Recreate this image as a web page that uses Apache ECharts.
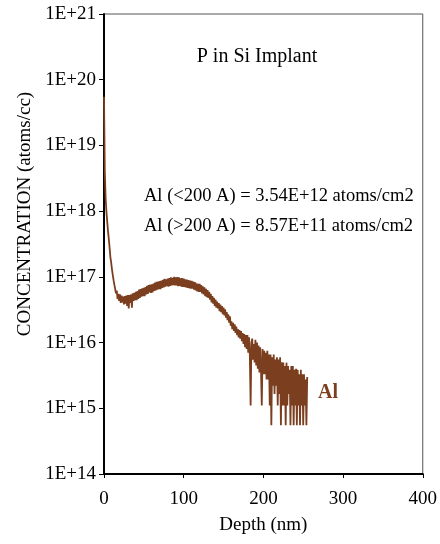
<!DOCTYPE html>
<html>
<head>
<meta charset="utf-8">
<script src="https://cdn.jsdelivr.net/npm/echarts@6/dist/echarts.min.js"></script>
<style>html,body{margin:0;padding:0;background:#fff}#c{width:440px;height:544px}</style>
</head>
<body>
<div id="c"></div>
<script>
// Depth sampling (nm): one reading per nm starting at 0
const depthStart = 0;
const depthStep = 1;
// Al concentration (atoms/cc), one per nm
const alConc = [
 5.5e19, 4.0e18, 1.6e18, 1.0e18, 7.0e17, 5.0e17, 3.8e17, 2.8e17, 2.0e17, 1.65e17,
 1.3e17, 1.07e17, 8.9e16, 7.6e16, 7.2e16, 5.6e16, 6.2e16, 4.6e16, 5.5e16, 4.3e16,
 5.4e16, 4.0e16, 5.2e16, 4.1e16, 5.0e16, 3.8e16, 5.1e16, 3.9e16, 5.2e16, 3.6e16,
 5.3e16, 3.3e16, 5.3e16, 4.0e16, 5.4e16, 3.4e16, 5.6e16, 4.3e16, 5.7e16, 4.4e16,
 5.9e16, 4.4e16, 6.1e16, 4.6e16, 6.4e16, 4.8e16, 6.5e16, 5.0e16, 6.7e16, 5.1e16,
 6.8e16, 5.1e16, 7.0e16, 5.4e16, 7.3e16, 5.5e16, 7.5e16, 5.8e16, 7.6e16, 5.7e16,
 7.7e16, 5.8e16, 7.9e16, 6.1e16, 8.2e16, 6.2e16, 8.4e16, 6.4e16, 8.5e16, 6.5e16,
 8.6e16, 6.5e16, 8.8e16, 6.8e16, 9.0e16, 6.9e16, 9.3e16, 7.1e16, 9.2e16, 7.2e16,
 9.4e16, 7.1e16, 9.6e16, 7.3e16, 9.8e16, 7.4e16, 9.7e16, 7.5e16, 1.0e17, 7.4e16,
 9.8e16, 7.4e16, 9.9e16, 7.2e16, 9.8e16, 7.3e16, 9.5e16, 7.1e16, 9.6e16, 7.0e16,
 9.4e16, 7.0e16, 9.2e16, 6.9e16, 9.1e16, 6.8e16, 8.9e16, 6.7e16, 8.8e16, 6.6e16,
 8.7e16, 6.6e16, 8.5e16, 6.4e16, 8.3e16, 6.2e16, 8.0e16, 6.0e16, 7.8e16, 5.9e16,
 7.8e16, 5.9e16, 7.5e16, 5.6e16, 7.2e16, 5.4e16, 6.9e16, 5.1e16, 6.6e16, 4.9e16,
 6.3e16, 4.8e16, 5.9e16, 4.5e16, 5.5e16, 4.1e16, 5.1e16, 3.9e16, 4.8e16, 3.6e16,
 4.5e16, 3.4e16, 4.2e16, 3.3e16, 4.0e16, 3.0e16, 3.8e16, 2.9e16, 3.6e16, 2.7e16,
 3.4e16, 2.6e16, 3.2e16, 2.4e16, 2.9e16, 2.2e16, 2.7e16, 2.0e16, 2.5e16, 1.8e16,
 2.1e16, 1.6e16, 2.0e16, 1.5e16, 1.9e16, 1.4e16, 1.75e16, 1.3e16, 1.6e16, 1.2e16,
 1.55e16, 1.15e16, 1.5e16, 1.05e16, 1.4e16, 9.5e15, 1.35e16, 8.5e15, 1.3e16, 8.0e15,
 1.3e16, 7.0e15, 1.2e16, 6.5e15, 1.1e15, 1.0e16, 1.15e16, 5.5e15, 9.5e15, 5.0e15,
 1.1e16, 4.5e15, 1.0e16, 4.0e15, 9.0e15, 3.5e15, 8.5e15, 4.0e15, 1.1e15, 8.0e15,
 3.3e15, 7.5e15, 3.3e15, 7.0e15, 2.75e15, 7.5e15, 2.75e15, 6.6e15, 1.1e15, 6.6e15,
 0.55e15, 6.0e15, 2.2e15, 6.6e15, 1.65e15, 5.5e15, 2.2e15, 6.0e15, 1.1e15, 5.5e15,
 1.65e15, 6.0e15, 0.55e15, 5.0e15, 1.1e15, 4.95e15, 1.1e15, 4.4e15, 0.55e15, 4.95e15,
 1.1e15, 4.4e15, 1.65e15, 3.85e15, 0.55e15, 4.4e15, 1.1e15, 4.4e15, 0.55e15, 3.85e15,
 1.1e15, 4.0e15, 0.55e15, 3.85e15, 1.1e15, 3.3e15, 0.55e15, 3.85e15, 1.1e15, 3.3e15,
 0.55e15, 3.3e15, 1.1e15, 2.75e15, 0.55e15, 3.0e15
];
const xTicks = [0, 100, 200, 300, 400];
const yTickExponents = [14, 15, 16, 17, 18, 19, 20, 21];
const titleText = 'P in Si Implant';
const noteLines = ['Al (<200 A) = 3.54E+12 atoms/cm2', 'Al (>200 A) = 8.57E+11 atoms/cm2'];
const seriesName = 'Al';

const FONT = '"Liberation Serif", "Times New Roman", serif';
const BROWN = '#7B3F1F';
const seriesData = alConc.map((c, i) => [depthStart + i * depthStep, c]);

const chart = echarts.init(document.getElementById('c'), null, {renderer: 'canvas'});
chart.setOption({
  animation: false,
  backgroundColor: '#fff',
  grid: {left: 104, right: 15, top: 14, bottom: 70, show: true, borderColor: '#555', borderWidth: 1, backgroundColor: 'transparent'},
  xAxis: {
    type: 'value', min: xTicks[0], max: xTicks[xTicks.length - 1], interval: 100,
    axisLine: {show: true, onZero: false, lineStyle: {color: '#000', width: 2}},
    axisTick: {show: true, inside: false, length: 4, lineStyle: {color: '#000', width: 1}},
    splitLine: {show: false},
    axisLabel: {margin: 16, fontFamily: FONT, fontSize: 19, color: '#000'},
    name: 'Depth (nm)', nameLocation: 'middle', nameGap: 42,
    nameTextStyle: {fontFamily: FONT, fontSize: 19, color: '#000'}
  },
  yAxis: {
    type: 'log', logBase: 10,
    min: Math.pow(10, yTickExponents[0]), max: Math.pow(10, yTickExponents[yTickExponents.length - 1]),
    axisLine: {show: true, lineStyle: {color: '#000', width: 2}},
    axisTick: {show: true, inside: false, length: 5, lineStyle: {color: '#000', width: 1}},
    minorTick: {show: false},
    splitLine: {show: false},
    axisLabel: {
      margin: 8, fontFamily: FONT, fontSize: 19, color: '#000',
      formatter: v => '1E+' + Math.round(Math.log10(v))
    }
  },
  graphic: [
    {type: 'text', x: 25, y: 214, rotation: Math.PI / 2, style: {text: 'CONCENTRATION (atoms/cc)', font: '19px ' + FONT, fill: '#000', align: 'center', verticalAlign: 'middle'}},
    {type: 'text', x: 257, y: 57, style: {text: titleText, font: '20px ' + FONT, fill: '#000', align: 'center', verticalAlign: 'middle'}},
    {type: 'text', x: 144, y: 196, style: {text: noteLines[0], font: '18.5px ' + FONT, fill: '#000', align: 'left', verticalAlign: 'middle'}},
    {type: 'text', x: 144, y: 226, style: {text: noteLines[1], font: '18.5px ' + FONT, fill: '#000', align: 'left', verticalAlign: 'middle'}},
    {type: 'text', x: 318, y: 393, style: {text: seriesName, font: 'bold 20px ' + FONT, fill: BROWN, align: 'left', verticalAlign: 'middle'}}
  ],
  series: [{
    name: seriesName, type: 'line', data: seriesData, showSymbol: false, symbol: 'none',
    sampling: null, lineStyle: {color: BROWN, width: 1.8}, z: 3
  }]
});
</script>
</body>
</html>
